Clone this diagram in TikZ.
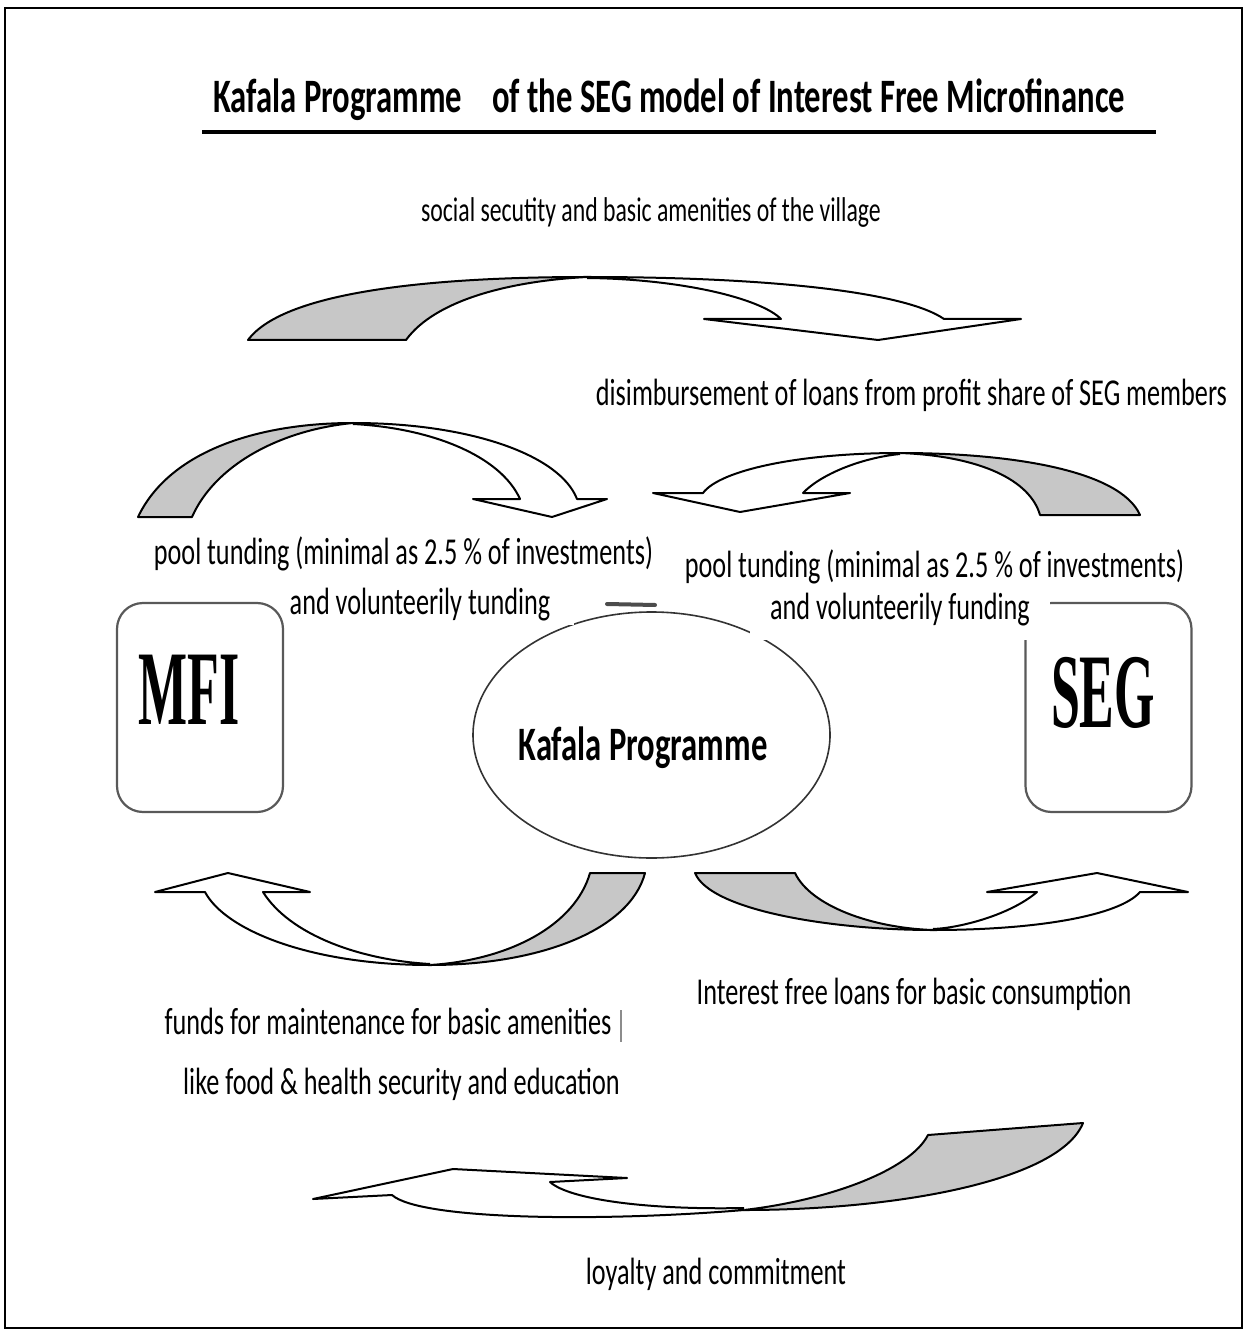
\documentclass[tikz,border=0pt]{standalone}
\usepackage{fontspec}
\setmainfont{Carlito}[FakeStretch=0.69]
\newfontfamily\ttlfont{Carlito}[FakeStretch=0.68]
\newfontfamily\boxfont{Liberation Serif}[FakeStretch=0.49]
\usetikzlibrary{shapes.geometric}

\begin{document}
\begin{tikzpicture}[
x=0.5pt, y=-0.5pt,
lbl/.style={inner sep=0pt, anchor=base, font=\fontsize{19}{23}\selectfont},
ttl/.style={inner sep=0pt, anchor=base west, font=\ttlfont\bfseries\fontsize{24}{28}\selectfont},
party/.style={draw=black!65, line width=1.1pt, rounded corners=13pt, minimum width=83pt, minimum height=104.5pt},
partytext/.style={inner sep=0pt, font=\boxfont\bfseries\fontsize{53}{60}\selectfont},
hub/.style={ellipse, draw=black!80, line width=0.8pt, minimum width=178.5pt, minimum height=123pt},
shade/.style={draw, line width=1pt, fill=black!22, line join=round},
band/.style={draw, line width=1pt, fill=white, line join=round}
]
\useasboundingbox (0,0) rectangle (1247,1331);

\draw[line width=1pt] (5,8) rectangle (1242,1328);

\node[ttl] (ttlkafala) at (213,113) {Kafala Programme};
\node[ttl] (ttlmodel) at (492,113) {of the SEG model of Interest Free Microfinance};
\draw[line width=2pt] (202,132) -- (1156,132);

% top arrow
\draw[shade] (248,340) .. controls (285,290) and (440,277) .. (587,277)
  .. controls (510,281) and (435,300) .. (406,340) -- cycle;
\draw[band] (587,277) .. controls (770,277) and (905,292) .. (944,319) -- (1021,319) -- (878,340)
  -- (704,319) -- (781,319) .. controls (760,298) and (680,279) .. (587,278);

% MFI to programme
\draw[shade] (138,517) .. controls (170,450) and (260,423) .. (353,423)
  .. controls (280,430) and (215,465) .. (192,517) -- cycle;
\draw[band] (353,423) .. controls (470,423) and (560,455) .. (577,499) -- (607,499) -- (552,517)
  -- (473,499) -- (520,499) .. controls (500,455) and (430,428) .. (353,424);

% SEG to programme
\draw[shade] (1140,515) .. controls (1120,470) and (1010,453) .. (900,453)
  .. controls (980,456) and (1030,480) .. (1040,515) -- cycle;
\draw[band] (900,453) .. controls (800,453) and (720,470) .. (703,493) -- (653,493) -- (740,512)
  -- (850,493) -- (803,493) .. controls (820,475) and (860,458) .. (900,454);

% programme to MFI
\draw[shade] (645,873) .. controls (630,930) and (540,965) .. (430,965)
  .. controls (510,960) and (575,925) .. (590,873) -- cycle;
\draw[band] (430,965) .. controls (310,965) and (225,930) .. (205,892) -- (155,892) -- (228,873)
  -- (310,892) -- (263,892) .. controls (290,935) and (360,960) .. (430,964);

% programme to SEG
\draw[shade] (695,873) .. controls (710,910) and (830,930) .. (933,930)
  .. controls (870,928) and (810,905) .. (795,873) -- cycle;
\draw[band] (933,930) .. controls (1040,930) and (1120,915) .. (1140,892) -- (1188,892) -- (1097,873)
  -- (987,892) -- (1037,892) .. controls (1010,915) and (960,928) .. (933,929);

% bottom arrow
\draw[shade] (1083,1123) .. controls (1060,1180) and (900,1210) .. (744,1210)
  .. controls (830,1200) and (910,1170) .. (928,1135) -- cycle;
\draw[band] (744,1210) .. controls (600,1222) and (420,1220) .. (392,1195) -- (313,1199) -- (453,1169)
  -- (627,1178) -- (550,1182) .. controls (570,1200) and (650,1210) .. (744,1208);

\node[hub] (kafala) at (651.5,735) {};
\draw[line width=2pt, black!70, line cap=round] (607,604) -- (655,605);
\node[party] (seg) at (1108.5,707.5) {};

\node[lbl, fill=white, inner xsep=10pt, inner ysep=7pt] (volright) at (900,619) {and volunteerily funding};
\node[lbl, fill=white, inner xsep=12pt, inner ysep=2pt] (volleft) at (420,614) {and volunteerily tunding};
\node[lbl] (poolleft) at (403.5,564) {pool tunding (minimal as 2.5 \% of investments)};
\node[lbl] (poolright) at (934.5,577) {pool tunding (minimal as 2.5 \% of investments)};

\node[lbl, font=\fontsize{17.2}{21}\selectfont] (village) at (651,222) {social secutity and basic amenities of the village};
\node[lbl] (loans) at (911.5,406) {disimbursement of loans from profit share of SEG members};
\node[lbl] (consumption) at (914,1004) {Interest free loans for basic consumption};
\node[lbl] (funds) at (388,1034) {funds for maintenance for basic amenities};
\draw[line width=1.2pt, black!45] (621,1010) -- (621,1042);
\node[lbl] (food) at (401.5,1094) {like food \& health security and education};
\node[lbl] (loyalty) at (716,1284) {loyalty and commitment};

\node[party] (mfi) at (200,707.5) {};
\node[partytext] (mfitext) at (189,690) {MFI};
\node[partytext] (segtext) at (1103,693) {SEG};
\node[ttl, anchor=center] (kafalatext) at (643,748) {Kafala Programme};

\end{tikzpicture}
\end{document}
